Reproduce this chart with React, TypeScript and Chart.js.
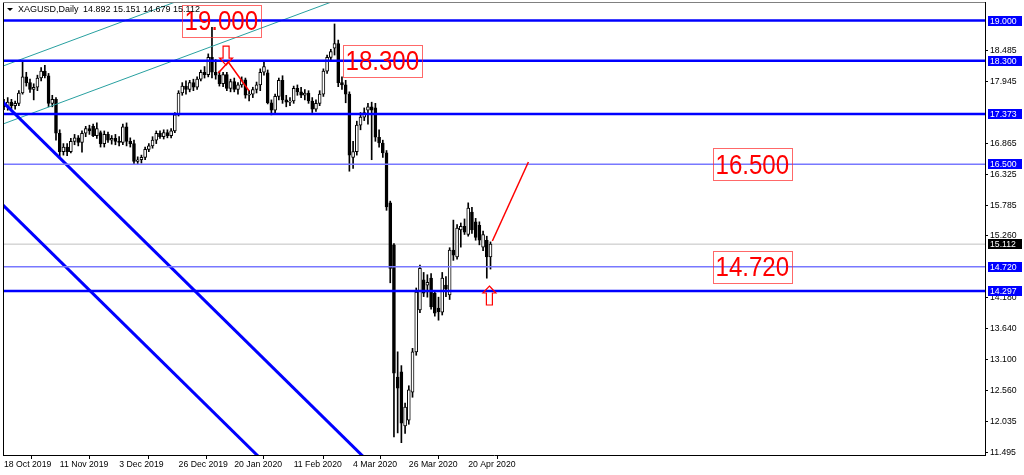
import React, { useEffect, useRef } from "react";
import { Chart, registerables } from "chart.js";

Chart.register(...registerables);

// ---------- data ----------
const symbolTitle = "XAGUSD,Daily";

const opens = [
  17.55, 17.5, 17.58, 17.52, 17.56, 17.74, 18.02, 17.92, 17.8, 17.84,
  18.0, 18.12, 18.04, 17.56, 17.63, 17.04, 16.72, 16.8, 16.72, 16.9,
  16.96, 16.88, 17.04, 17.12, 17.16, 17.0, 17.05, 16.86, 17.02, 16.92,
  16.95, 16.9, 16.88, 17.15, 16.9, 16.86, 16.55, 16.58, 16.62, 16.76,
  16.82, 16.92, 17.04, 16.98, 17.05, 17.0, 17.08, 17.36, 17.74, 17.86,
  17.8, 17.92, 17.84, 17.98, 18.1, 18.06, 18.36, 18.1, 18.05, 17.9,
  18.06, 17.82, 17.94, 17.8, 17.88, 17.97, 17.7, 17.72, 17.8, 17.88,
  18.1, 18.09, 17.57, 17.44, 17.68, 17.96, 17.62, 17.58, 17.6, 17.82,
  17.76, 17.7, 17.74, 17.6, 17.46, 17.56, 17.72, 18.12, 18.36, 18.52,
  18.6, 17.92, 17.88, 17.72, 16.62, 16.72, 17.18, 17.32, 17.44, 17.5,
  17.48, 16.97, 16.87, 16.7, 15.83, 15.1, 12.8, 12.89, 11.95, 12.05,
  12.54, 13.24, 13.97, 14.49, 14.4, 14.52, 14.26, 14.0, 13.93, 14.4,
  14.23, 15.01, 14.89, 15.36, 15.42, 15.28, 15.67, 15.5, 15.44, 15.06,
  15.18, 14.892,
];
const highs = [
  17.63, 17.66, 17.63, 17.6, 17.78, 18.31, 18.1, 17.98, 17.9, 18.05,
  18.18, 18.22, 18.08, 17.7, 17.66, 17.1, 16.86, 16.86, 16.95, 17.02,
  17.0, 17.08, 17.16, 17.18, 17.2, 17.22, 17.08, 17.08, 17.06, 17.0,
  17.02, 16.98, 17.2, 17.22, 16.96, 16.92, 16.63, 16.66, 16.8, 16.86,
  16.98, 17.08, 17.08, 17.1, 17.1, 17.12, 17.4, 17.78, 17.92, 17.95,
  17.96, 17.98, 18.02, 18.14, 18.2, 18.42, 18.88, 18.32, 18.12, 18.1,
  18.1, 17.98, 18.0, 17.92, 18.02, 18.0, 17.78, 17.84, 17.93, 18.16,
  18.28, 18.14, 17.62, 17.72, 18.0, 18.04, 17.7, 17.66, 17.86, 17.88,
  17.84, 17.8, 17.78, 17.66, 17.62, 17.78, 18.16, 18.4, 18.5, 18.94,
  18.66, 18.02, 17.96, 17.76, 16.9, 17.25, 17.4, 17.48, 17.56, 17.58,
  17.56, 17.1, 16.92, 16.74, 15.86, 15.12, 13.24, 13.0, 12.35, 12.65,
  13.3, 14.35, 14.75, 14.62, 14.58, 14.6, 14.3, 14.19, 14.62, 14.55,
  15.05, 15.53, 15.45, 15.48, 15.55, 15.83, 15.75, 15.56, 15.5, 15.34,
  15.25, 15.151,
];
const lows = [
  17.45, 17.44, 17.47, 17.46, 17.52, 17.72, 17.86, 17.75, 17.62, 17.78,
  17.95, 18.0, 17.5, 17.5, 16.92, 16.63, 16.66, 16.65, 16.7, 16.84,
  16.82, 16.71, 16.98, 17.02, 16.98, 16.95, 16.8, 16.8, 16.88, 16.85,
  16.84, 16.82, 16.84, 16.82, 16.8, 16.5, 16.5, 16.52, 16.58, 16.72,
  16.78, 16.86, 16.95, 16.94, 16.96, 16.96, 17.05, 17.34, 17.7, 17.72,
  17.76, 17.78, 17.8, 17.95, 18.0, 18.02, 18.0, 17.98, 17.86, 17.85,
  17.78, 17.76, 17.76, 17.72, 17.84, 17.65, 17.6, 17.66, 17.74, 17.78,
  18.05, 17.55, 17.36, 17.4, 17.62, 17.56, 17.5, 17.52, 17.56, 17.7,
  17.66, 17.62, 17.56, 17.4, 17.42, 17.52, 17.68, 18.08, 18.3, 18.4,
  17.85, 17.8, 17.57, 16.38, 16.43, 16.66, 17.1, 17.26, 17.2, 16.58,
  16.9, 16.8, 16.62, 15.7, 14.44, 11.76, 11.83, 11.66, 11.82, 11.98,
  12.45, 13.18, 13.92, 14.2, 14.19, 13.98, 13.86, 13.79, 13.88, 14.2,
  14.15, 14.83, 14.85, 15.06, 15.28, 15.25, 15.3, 15.18, 15.1, 15.0,
  14.52, 14.679,
];
const closes = [
  17.5, 17.58, 17.52, 17.56, 17.74, 18.02, 17.92, 17.8, 17.84, 18.0,
  18.12, 18.04, 17.56, 17.63, 17.04, 16.72, 16.8, 16.72, 16.9, 16.96,
  16.88, 17.04, 17.12, 17.08, 17.0, 17.12, 16.86, 17.02, 16.92, 16.95,
  16.9, 16.88, 17.15, 16.9, 16.86, 16.55, 16.58, 16.62, 16.76, 16.82,
  16.92, 17.04, 16.98, 17.05, 17.0, 17.08, 17.36, 17.74, 17.86, 17.8,
  17.92, 17.84, 17.98, 18.1, 18.06, 18.36, 18.1, 18.05, 17.9, 18.06,
  17.82, 17.94, 17.8, 17.88, 17.97, 17.7, 17.72, 17.8, 17.88, 18.1,
  18.2, 17.57, 17.44, 17.68, 17.96, 17.62, 17.58, 17.6, 17.82, 17.76,
  17.7, 17.74, 17.6, 17.46, 17.56, 17.72, 18.12, 18.36, 18.46, 18.6,
  17.92, 17.88, 17.72, 16.66, 16.72, 17.18, 17.32, 17.4, 17.5, 17.44,
  16.97, 16.87, 16.7, 15.76, 14.69, 12.87, 12.61, 12.0, 12.28, 12.58,
  13.24, 14.28, 14.69, 14.26, 14.45, 14.02, 13.91, 13.94, 14.52, 14.33,
  15.01, 14.92, 15.39, 15.42, 15.32, 15.74, 15.36, 15.23, 15.18, 15.28,
  14.89, 15.112,
];

const xTickIdx = [0, 15, 31, 47, 62, 78, 94, 109, 125];
const xTickLabels = [
  "18 Oct 2019", "11 Nov 2019", "3 Dec 2019", "26 Dec 2019", "20 Jan 2020",
  "11 Feb 2020", "4 Mar 2020", "26 Mar 2020", "20 Apr 2020",
];
const yTickValues = [
  18.485, 17.945, 16.865, 16.325, 15.785, 15.26, 14.18, 13.64, 13.1, 12.56,
  12.035, 11.495,
];

// horizontal levels
const levelPrices = [19.0, 18.3, 17.373, 16.5, 14.72, 14.297];
const levelIsThin = [false, false, false, true, true, false];
const currentPrice = 15.112;

// trend lines (bar index, price)
const trendAX = [-0.27, 98.6];
const trendAY = [17.583, 11.3];
const trendBX = [-0.27, 70.4];
const trendBY = [15.792, 11.3];
const channelLowX = [-0.27, 100];
const channelLowY = [17.201, 19.606];
const channelUpX = [-0.27, 60];
const channelUpY = [18.209, 19.655];
const redVX = [57.7, 60.4, 66.0];
const redVY = [18.087, 18.278, 17.774];
const redUpX = [131.5, 141.2];
const redUpY = [15.166, 16.54];

// red text boxes
const boxLabels = ["19.000", "18.300", "16.500", "14.720"];
const boxIdx = [48, 91.4, 190.8, 190.8];
const boxPrice = [19.0, 18.3, 16.5, 14.72];

// arrows: tip position
const arrowDownIdx = 59.8;
const arrowDownPrice = 18.226;
const arrowUpIdx = 130.7;
const arrowUpPrice = 14.384;

// axis ranges
const X_MIN = -0.27;
const X_MAX = 264.15;
const Y_MIN = 11.446;
const Y_MAX = 19.322;

const FONT = '"Liberation Sans", Arial, sans-serif';

export default function App() {
  const ref = useRef<HTMLCanvasElement | null>(null);

  useEffect(() => {
    document.body.style.margin = "0";
    const canvas = ref.current;
    if (!canvas) return;
    const idx = opens.map((_, i) => i);
    const wickData = idx.map((i) => ({ x: i, y: [lows[i], highs[i]] }));
    const bodyData = idx.map((i) => ({
      x: i,
      y: [Math.min(opens[i], closes[i]), Math.max(opens[i], closes[i])],
    }));
    const bodyBg = idx.map((i) => (closes[i] >= opens[i] ? "#ffffff" : "#000000"));

    const line = (xs: number[], ys: number[], color: string, width: number, order: number) => ({
      type: "line" as const,
      data: xs.map((x, k) => ({ x, y: ys[k] })),
      borderColor: color,
      backgroundColor: color,
      borderWidth: width,
      pointRadius: 0,
      tension: 0,
      fill: false,
      order,
    });

    const levelSets = levelPrices.map((p, k) =>
      line([X_MIN - 1, X_MAX + 1], [p, p], levelIsThin[k] ? "rgb(120,120,255)" : "#0000ff", levelIsThin[k] ? 1.5 : 2.5, 1)
    );

    const overlay = {
      id: "overlay",
      afterDatasetsDraw(chart: any) {
        const { ctx, chartArea, scales } = chart;
        const x = scales.x;
        const y = scales.y;
        ctx.save();
        ctx.beginPath();
        ctx.rect(chartArea.left, chartArea.top, chartArea.width, chartArea.height);
        ctx.clip();
        // red boxes (text slightly condensed like the terminal font)
        const sx = 0.86;
        ctx.font = `28px ${FONT}`;
        ctx.textBaseline = "middle";
        ctx.textAlign = "left";
        boxLabels.forEach((t, k) => {
          const px = Math.round(x.getPixelForValue(boxIdx[k]));
          const py = y.getPixelForValue(boxPrice[k]);
          const w = Math.round(ctx.measureText(t).width * sx + 5);
          const h = 32;
          ctx.strokeStyle = "rgba(255,40,40,0.7)";
          ctx.lineWidth = 1;
          ctx.strokeRect(px + 0.5, Math.round(py - h / 2) + 0.5, w, h);
          ctx.fillStyle = "#ff0000";
          ctx.save();
          ctx.translate(px + 2.5, py + 1.5);
          ctx.scale(sx, 1);
          ctx.fillText(t, 0, 0);
          ctx.restore();
        });
        // arrows
        const arrow = (cx: number, tipY: number, dir: number) => {
          const hw = 6.5, sw = 3, hh = 7, total = 19;
          ctx.beginPath();
          ctx.moveTo(cx, tipY);
          ctx.lineTo(cx + hw, tipY - dir * hh);
          ctx.lineTo(cx + sw, tipY - dir * hh);
          ctx.lineTo(cx + sw, tipY - dir * total);
          ctx.lineTo(cx - sw, tipY - dir * total);
          ctx.lineTo(cx - sw, tipY - dir * hh);
          ctx.lineTo(cx - hw, tipY - dir * hh);
          ctx.closePath();
          ctx.strokeStyle = "#ff0000";
          ctx.lineWidth = 1.2;
          ctx.stroke();
        };
        arrow(x.getPixelForValue(arrowDownIdx), y.getPixelForValue(arrowDownPrice), 1);
        arrow(x.getPixelForValue(arrowUpIdx), y.getPixelForValue(arrowUpPrice), -1);
        ctx.restore();
      },
      afterDraw(chart: any) {
        const { ctx, chartArea, scales } = chart;
        const y = scales.y;
        ctx.save();
        // frame
        ctx.lineWidth = 1;
        ctx.strokeStyle = "#000";
        ctx.beginPath();
        ctx.moveTo(chartArea.left + 0.5, chartArea.top);
        ctx.lineTo(chartArea.left + 0.5, chartArea.bottom);
        ctx.stroke();
        ctx.strokeStyle = "#808080";
        ctx.beginPath();
        ctx.moveTo(chartArea.left, chartArea.top + 0.5);
        ctx.lineTo(chartArea.right, chartArea.top + 0.5);
        ctx.stroke();
        // price labels on the axis
        ctx.font = `8.7px ${FONT}`;
        ctx.textBaseline = "middle";
        ctx.textAlign = "left";
        const tag = (v: number, bg: string) => {
          const py = Math.round(y.getPixelForValue(v));
          ctx.fillStyle = bg;
          ctx.fillRect(chartArea.right + 3, py - 5, 34, 10);
          ctx.fillStyle = "#ffffff";
          ctx.fillText(v.toFixed(3), chartArea.right + 5, py + 0.5);
        };
        levelPrices.forEach((p) => tag(p, "#0000ff"));
        tag(currentPrice, "#000000");
        // header
        const hx = chartArea.left + 4;
        ctx.fillStyle = "#000";
        ctx.beginPath();
        ctx.moveTo(hx, 8);
        ctx.lineTo(hx + 6, 8);
        ctx.lineTo(hx + 3, 11);
        ctx.closePath();
        ctx.fill();
        ctx.font = `9px ${FONT}`;
        ctx.fillText(symbolTitle, hx + 11, 10);
        const last = opens.length - 1;
        ctx.fillText(
          [opens[last], highs[last], lows[last], closes[last]].map((v) => v.toFixed(3)).join(" "),
          hx + 76,
          10
        );
        ctx.restore();
      },
    };

    const chart = new Chart(canvas, {
      type: "bar",
      data: {
        datasets: [
          {
            type: "bar",
            data: bodyData as any,
            backgroundColor: bodyBg,
            borderColor: "#000000",
            borderWidth: 1,
            borderSkipped: false,
            barThickness: 3,
            minBarLength: 1,
            grouped: false,
            order: 2,
          } as any,
          {
            type: "bar",
            data: wickData as any,
            backgroundColor: "#000000",
            borderWidth: 0,
            barThickness: 1,
            grouped: false,
            order: 3,
          } as any,
          line([X_MIN - 1, X_MAX + 1], [currentPrice, currentPrice], "rgb(192,192,192)", 1, 4),
          ...levelSets,
          line(trendAX, trendAY, "#0000ff", 3, 1),
          line(trendBX, trendBY, "#0000ff", 3, 1),
          line(channelLowX, channelLowY, "rgb(40,160,160)", 1, 1),
          line(channelUpX, channelUpY, "rgb(40,160,160)", 1, 1),
          line(redVX, redVY, "#ff0000", 1.5, 0),
          line(redUpX, redUpY, "#ff0000", 1.5, 0),
        ] as any,
      },
      options: {
        animation: false,
        responsive: false,
        devicePixelRatio: 1,
        events: [],
        layout: { padding: { left: 3, top: 2, right: 0, bottom: 0 } },
        plugins: { legend: { display: false }, tooltip: { enabled: false } },
        scales: {
          x: {
            type: "linear",
            min: X_MIN,
            max: X_MAX,
            offset: false,
            grid: { drawOnChartArea: false, drawTicks: true, tickLength: 4, color: "#000" },
            border: { display: true, color: "#000" },
            ticks: {
              autoSkip: false,
              maxRotation: 0,
              minRotation: 0,
              align: "start",
              padding: 0,
              color: "#000",
              font: { family: FONT, size: 8.7 },
              callback: (_v: any, i: number) => xTickLabels[i],
            },
            afterBuildTicks: (s: any) => {
              s.ticks = xTickIdx.map((v) => ({ value: v }));
            },
            afterFit: (s: any) => {
              s.height = 20;
              s.paddingLeft = 0;
              s.paddingRight = 0;
            },
          },
          y: {
            type: "linear",
            position: "right",
            min: Y_MIN,
            max: Y_MAX,
            grid: { drawOnChartArea: false, drawTicks: true, tickLength: 3, color: "#000" },
            border: { display: true, color: "#000" },
            ticks: {
              padding: 2,
              color: "#000",
              font: { family: FONT, size: 8.7 },
              callback: (v: any) => Number(v).toFixed(3),
            },
            afterBuildTicks: (s: any) => {
              s.ticks = yTickValues.map((v) => ({ value: v }));
            },
            afterFit: (s: any) => {
              s.width = 39;
              s.paddingTop = 0;
              s.paddingBottom = 0;
            },
          },
        },
      } as any,
      plugins: [overlay],
    });
    return () => chart.destroy();
  }, []);

  return (
    <div style={{ width: 1024, height: 475, background: "#fff" }}>
      <canvas ref={ref} width={1024} height={475} style={{ display: "block" }} />
    </div>
  );
}
